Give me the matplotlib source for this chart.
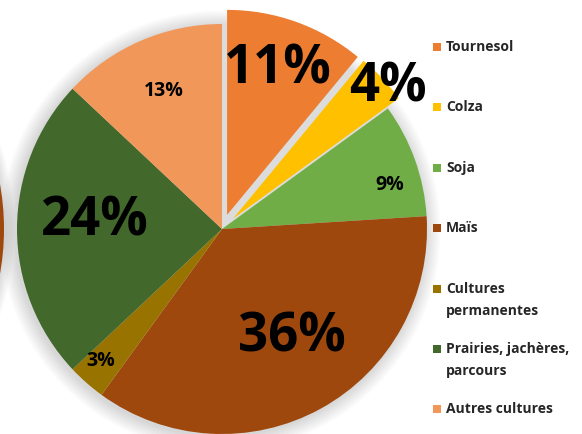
import matplotlib
matplotlib.use("Agg")
import matplotlib.pyplot as plt
from matplotlib.patches import Circle, Rectangle

categories = ["Tournesol", "Colza", "Soja", "Maïs", "Cultures\npermanentes",
              "Prairies, jachères,\nparcours", "Autres cultures"]
values = [11, 4, 9, 36, 3, 24, 13]
pct_labels = ["11%", "4%", "9%", "36%", "3%", "24%", "13%"]
colors = ["#ED7D31", "#FFC000", "#70AD47", "#9E480E", "#997300", "#43682B", "#F1975A"]
explode_px = [15, 15, 0, 0, 0, 0, 0]

# layout (pixel units, origin bottom-left)
W, H = 582, 434
cx, cy, R = 222, H - 229, 205
label_pos = [(278, 70), (388, 88), (390, 185), (292, 338), (101, 361), (95, 222), (164, 91)]
label_size = [38, 38, 14, 38, 14, 38, 14]
legend_y = [47, 107, 168, 228, 289, 349, 409]

plt.rcParams['font.family'] = ['Open Sans', 'DejaVu Sans']

fig = plt.figure(figsize=(W / 100, H / 100), dpi=100)
ax = fig.add_axes([0, 0, 1, 1])

# neighbouring pie remnant on the left edge
for k in range(8):
    ax.add_patch(Circle((-249, cy), 253 + k * 1.5, color="#000000", alpha=0.018, lw=0, zorder=0))
ax.add_patch(Circle((-249, cy), 253, color="#9E480E", lw=0, zorder=1))

# soft shadow behind the pie
for k in range(10):
    ax.add_patch(Circle((cx - 2, cy - 2), R + 1 + k * 1.6, color="#000000", alpha=0.016, lw=0, zorder=0))
ax.add_patch(Circle((cx, cy), R, color="#DCDCDC", lw=0, zorder=1))

wedges, _ = ax.pie(values, colors=colors, startangle=90, counterclock=False,
                   explode=explode_px, center=(cx, cy), radius=R,
                   wedgeprops=dict(linewidth=0))
for w in wedges:
    w.set_zorder(2)

for (x, y), t, s in zip(label_pos, pct_labels, label_size):
    ax.text(x, H - y, t, fontsize=s, fontweight='bold', color='black',
            ha='center', va='center', zorder=5)

# legend
for lab, c, y in zip(categories, colors, legend_y):
    ax.add_patch(Rectangle((433, H - y - 4), 8, 8, color=c, lw=0, zorder=5))
    for i, line in enumerate(lab.split("\n")):
        ax.text(446, H - y - i * 22, line, fontsize=10, fontweight='bold',
                color='#262626', ha='left', va='center', zorder=5)

ax.set_xlim(0, W)
ax.set_ylim(0, H)
ax.set_aspect('equal')
ax.axis('off')
fig.savefig("out.png", dpi=100)
